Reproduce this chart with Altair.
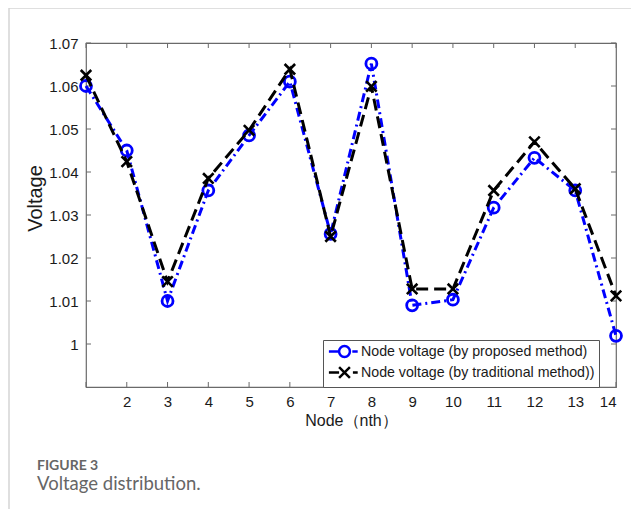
import altair as alt
import pandas as pd

nodes = list(range(1, 15))
proposed = [1.0600, 1.0450, 1.0100, 1.0357, 1.0485, 1.0610, 1.0256, 1.0652,
            1.0090, 1.0103, 1.0317, 1.0433, 1.0357, 1.0019]
traditional = [1.0625, 1.0424, 1.0145, 1.0385, 1.0497, 1.0639, 1.0250, 1.0599,
               1.0128, 1.0128, 1.0357, 1.0470, 1.0361, 1.0112]
series_names = ["Node voltage (by proposed method)",
                "Node voltage (by traditional method))"]
series_colors = ["#0000ff", "#000000"]
y_ticks = [1.00, 1.01, 1.02, 1.03, 1.04, 1.05, 1.06, 1.07]
x_labels = nodes[1:]

W, H = 530, 344
AX = "#6a6a6a"
FONT = "Liberation Sans"

rows = []
for n, p, t in zip(nodes, proposed, traditional):
    rows.append({"node": n, "v": p, "series": series_names[0]})
    rows.append({"node": n, "v": t, "series": series_names[1]})
df = pd.DataFrame(rows)

x_enc = alt.X("node:Q",
              scale=alt.Scale(domain=[1, 14], nice=False, zero=False),
              axis=alt.Axis(values=x_labels, title="Node（nth）", ticks=False,
                            domain=False, grid=False, labelFontSize=15,
                            labelColor="#1a1a1a", labelPadding=7,
                            titleFontSize=16, titleFontWeight="normal",
                            titleColor="#1a1a1a", titlePadding=3,
                            labelFont=FONT, titleFont=FONT))
y_enc = alt.Y("v:Q",
              scale=alt.Scale(domain=[0.99, 1.07], nice=False, zero=False),
              axis=alt.Axis(values=y_ticks, format=".3~g", title="Voltage",
                            ticks=False, domain=False, grid=False,
                            labelFontSize=15, labelColor="#1a1a1a",
                            labelPadding=8, titleFontSize=20,
                            titleFontWeight="normal", titleColor="#1a1a1a",
                            titleX=-51, titleY=155, titleBaseline="middle",
                            titleAngle=270, titleAlign="center",
                            labelFont=FONT, titleFont=FONT))

circle_leg = "M-2.6,0H-0.9M-0.9,0A0.9,0.9,0,1,0,0.9,0A0.9,0.9,0,1,0,-0.9,0M1.3,0H2.2"
cross_leg = "M-2.6,0H-0.9M-0.9,-0.9L0.9,0.9M-0.9,0.9L0.9,-0.9M1.4,0H2.2"

legend = alt.Legend(
    title=None, orient="none", legendX=237, legendY=297,
    labelFontSize=14.2, labelFont=FONT, labelColor="#1a1a1a", labelLimit=400,
    strokeColor="#555555", fillColor="white", padding=4,
    symbolSize=144, symbolStrokeWidth=2.5, labelOffset=9,
    symbolOffset=10, rowPadding=0, symbolOpacity=1,
)
color_enc = alt.Color(
    "series:N",
    scale=alt.Scale(domain=series_names, range=series_colors),
    legend=legend,
)
shape_enc = alt.Shape(
    "series:N",
    scale=alt.Scale(domain=series_names, range=[circle_leg, cross_leg]),
    legend=legend,
)

base = alt.Chart(df)

legend_layer = base.transform_filter("false").mark_point(
    filled=False, strokeWidth=2.5, size=144, opacity=1).encode(
    x=x_enc, y=y_enc, color=color_enc, shape=shape_enc)

blue_line = base.transform_filter(alt.datum.series == series_names[0]).mark_line(
    strokeWidth=3, strokeDash=[9, 4, 2, 4]).encode(x=x_enc, y=y_enc, color=color_enc)
blue_pts = base.transform_filter(alt.datum.series == series_names[0]).mark_point(
    shape="circle", filled=False, size=120, strokeWidth=2.8, opacity=1).encode(
    x=x_enc, y=y_enc, color=color_enc)
black_line = base.transform_filter(alt.datum.series == series_names[1]).mark_line(
    strokeWidth=3, strokeDash=[12, 6]).encode(x=x_enc, y=y_enc, color=color_enc)
black_pts = base.transform_filter(alt.datum.series == series_names[1]).mark_point(
    shape="M-1,-1L1,1M-1,1L1,-1", filled=False, size=110, strokeWidth=2.6,
    opacity=1).encode(x=x_enc, y=y_enc, color=color_enc)

xt = alt.Chart(pd.DataFrame({"node": nodes}))
yt = alt.Chart(pd.DataFrame({"v": y_ticks}))
tick_bottom = xt.mark_rule(color=AX, strokeWidth=1).encode(
    x=x_enc, y=alt.value(H), y2=alt.value(H - 5))
tick_top = xt.mark_rule(color=AX, strokeWidth=1).encode(
    x=x_enc, y=alt.value(0), y2=alt.value(5))
tick_left = yt.mark_rule(color=AX, strokeWidth=1).encode(
    y=y_enc, x=alt.value(0), x2=alt.value(5))
tick_right = yt.mark_rule(color=AX, strokeWidth=1).encode(
    y=y_enc, x=alt.value(W), x2=alt.value(W - 5))

one = alt.Chart(pd.DataFrame({"a": [0]}))
frame_left = one.mark_rule(color="#d4d4d4", strokeWidth=1.5).encode(
    x=alt.value(-77), y=alt.value(-35), y2=alt.value(480))
frame_top = one.mark_rule(color="#d4d4d4", strokeWidth=1.5).encode(
    x=alt.value(-77), x2=alt.value(560), y=alt.value(-35))

cap1 = alt.Chart(pd.DataFrame({"t": ["FIGURE 3"]})).mark_text(
    align="left", baseline="middle", font="Lato", fontSize=14,
    fontWeight="bold", color="#666666").encode(
    text="t:N", x=alt.value(-49), y=alt.value(423))
cap2 = alt.Chart(pd.DataFrame({"t": ["Voltage distribution."]})).mark_text(
    align="left", baseline="middle", font="Lato", fontSize=18.5,
    color="#666666").encode(
    text="t:N", x=alt.value(-49), y=alt.value(441))

chart = alt.layer(
    legend_layer,
    frame_left, frame_top,
    tick_bottom, tick_top, tick_left, tick_right,
    blue_line, blue_pts, black_line, black_pts,
    cap1, cap2,
).properties(
    width=W, height=H,
    autosize=alt.AutoSizeParams(type="none"),
    padding={"left": 78, "top": 35, "right": 15, "bottom": 122},
    background="white",
).configure_view(stroke=AX, strokeWidth=1.2)

chart.save("out.html", embed_options={"renderer": "svg", "actions": False})
